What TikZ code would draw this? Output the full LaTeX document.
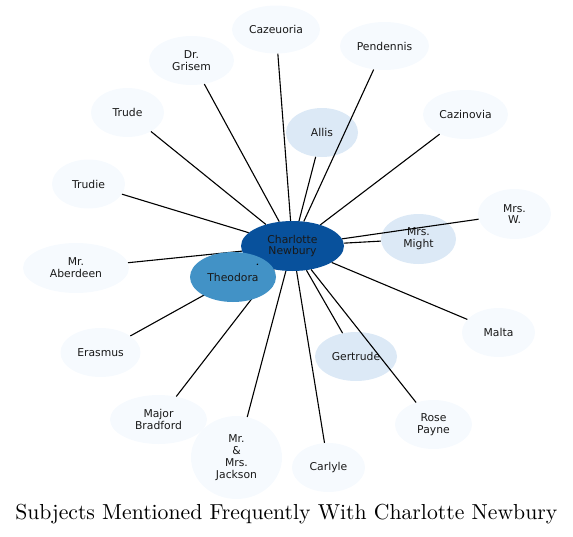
\documentclass[tikz,border=0pt]{standalone}
\usepackage{fontspec}
\usetikzlibrary{shapes.geometric}
\newfontfamily\labelfont{DejaVu Sans}
\newfontfamily\titlefont{lmroman10-regular.otf}
\definecolor{cmain}{HTML}{08519C}
\definecolor{ctheo}{HTML}{4292C6}
\definecolor{cmid}{HTML}{DCE9F6}
\definecolor{clight}{HTML}{F6FAFE}
\tikzset{
  nd/.style 2 args={ellipse, draw=none, inner sep=0pt, align=center,
    minimum width=#1pt, minimum height=#2pt,
    font=\labelfont\fontsize{10.8}{11.8}\selectfont, text=black!90},
  lt/.style={fill=clight},
  md/.style={fill=cmid},
  edge/.style={draw=black, line width=1.1pt},
}
\begin{document}
\begin{tikzpicture}[x=1pt,y=-1pt]
\useasboundingbox (0,0) rectangle (573,536);
% centre
\node[nd={103}{50}, fill=cmain] (c) at (292.5,246) {Charlotte\\Newbury};
% other nodes
\node[nd={88}{48}, lt] (cazeuoria) at (276,29.5) {Cazeuoria};
\node[nd={89}{48}, lt] (pendennis) at (384.5,46) {Pendennis};
\node[nd={85}{49}, lt] (grisem) at (191.5,60.5) {Dr.\\Grisem};
\node[nd={73}{49}, lt] (trude) at (127.5,112.5) {Trude};
\node[nd={72}{49}, md] (allis) at (322,132.5) {Allis};
\node[nd={85}{49}, lt] (cazinovia) at (465.5,114.5) {Cazinovia};
\node[nd={73}{49}, lt] (trudie) at (88.5,184) {Trudie};
\node[nd={73}{50}, lt] (mrsw) at (514.5,214) {Mrs.\\W.};
\node[nd={75}{50}, md] (might) at (418.5,239) {Mrs.\\Might};
\node[nd={106}{50}, lt] (aberdeen) at (76,268) {Mr.\\Aberdeen};
\node[nd={80}{49}, lt] (erasmus) at (100.5,352.5) {Erasmus};
\node[nd={73}{49}, lt] (malta) at (498.5,332.5) {Malta};
\node[nd={82}{49}, md] (gertrude) at (356,356.5) {Gertrude};
\node[nd={97}{49}, lt] (bradford) at (158.5,419.5) {Major\\Bradford};
\node[nd={77}{49}, lt] (rose) at (433.5,424.5) {Rose\\Payne};
\node[nd={91}{83}, lt] (jackson) at (236.5,457.5) {Mr.\\\&\\Mrs.\\Jackson};
\node[nd={73}{49}, lt] (carlyle) at (328.5,467.5) {Carlyle};
% edges
\foreach \t in {cazeuoria,pendennis,grisem,trude,allis,cazinovia,trudie,mrsw,might,aberdeen,erasmus,malta,gertrude,bradford,rose,jackson,carlyle}
  \draw[edge] (c) -- (\t);
% Theodora on top
\node[nd={86}{50}, fill=ctheo] (theo) at (233,277) {Theodora};
\draw[edge, line cap=round, shorten >=8.4pt] (c) -- (theo);
% title
\node[anchor=base, inner sep=0pt, font=\titlefont\fontsize{21.7}{25}\selectfont] (title) at (286.3,519.3) {Subjects Mentioned Frequently With Charlotte Newbury};
\end{tikzpicture}
\end{document}
